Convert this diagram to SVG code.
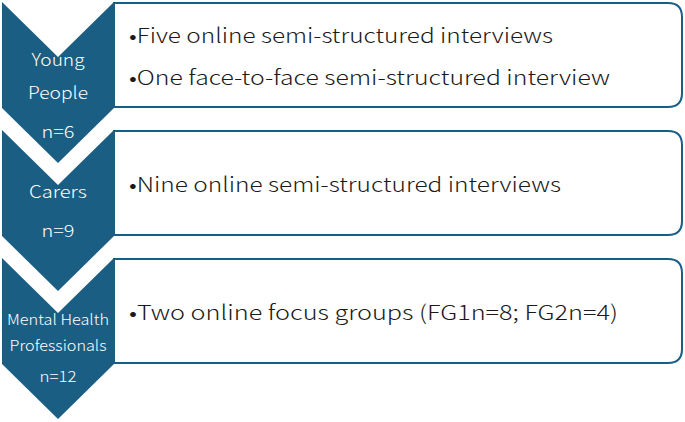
<svg xmlns="http://www.w3.org/2000/svg" width="685" height="422" viewBox="0 0 685 422">
<style>
.chev{fill:#1a5e83;}
.box{fill:#ffffff;stroke:#1a5e83;stroke-width:2;}
.ct{fill:#ffffff;font-family:"Noto Sans CJK JP","Noto Sans",sans-serif;font-size:17px;font-weight:300;text-anchor:middle;}
.cs{font-size:15px;}
.bt{fill:#1a1a1a;font-family:"Noto Sans CJK JP","Noto Sans",sans-serif;font-size:20.5px;font-weight:300;}
</style>
<rect width="685" height="422" fill="#ffffff"/>
<g id="young-people">
<path class="chev" d="M2,2 L58,57 L114,2 V108 L58,163 L2,108 Z"/>
<path class="box" d="M114,3 H668 Q682,3 682,17 V93 Q682,107 668,107 H114 Z"/>
<text class="ct" x="58" y="66" textLength="53" lengthAdjust="spacingAndGlyphs">Young</text>
<text class="ct" x="58" y="99" textLength="60" lengthAdjust="spacingAndGlyphs">People</text>
<text class="ct" x="58" y="138" textLength="33" lengthAdjust="spacingAndGlyphs">n=6</text>
<text class="bt" x="129" y="43" textLength="424" lengthAdjust="spacingAndGlyphs">•Five online semi-structured interviews</text>
<text class="bt" x="129" y="85" textLength="481" lengthAdjust="spacingAndGlyphs">•One face-to-face semi-structured interview</text>
</g>
<g id="carers">
<path class="chev" d="M2,130 L58,185 L114,130 V236 L58,291 L2,236 Z"/>
<path class="box" d="M114,131 H668 Q682,131 682,145 V221 Q682,235 668,235 H114 Z"/>
<text class="ct" x="58" y="198" textLength="58" lengthAdjust="spacingAndGlyphs">Carers</text>
<text class="ct" x="58" y="237" textLength="33" lengthAdjust="spacingAndGlyphs">n=9</text>
<text class="bt" x="129" y="192" textLength="432" lengthAdjust="spacingAndGlyphs">•Nine online semi-structured interviews</text>
</g>
<g id="mental-health-professionals">
<path class="chev" d="M2,258 L58,313 L114,258 V364 L58,419 L2,364 Z"/>
<path class="box" d="M114,259 H668 Q682,259 682,273 V349 Q682,363 668,363 H114 Z"/>
<text class="ct cs" x="58" y="325" textLength="102" lengthAdjust="spacingAndGlyphs">Mental Health</text>
<text class="ct cs" x="58" y="351" textLength="97" lengthAdjust="spacingAndGlyphs">Professionals</text>
<text class="ct cs" x="58" y="382" textLength="37" lengthAdjust="spacingAndGlyphs">n=12</text>
<text class="bt" x="129" y="320" textLength="489" lengthAdjust="spacingAndGlyphs">•Two online focus groups (FG1n=8; FG2n=4)</text>
</g>
<g id="connectors"></g>
</svg>
